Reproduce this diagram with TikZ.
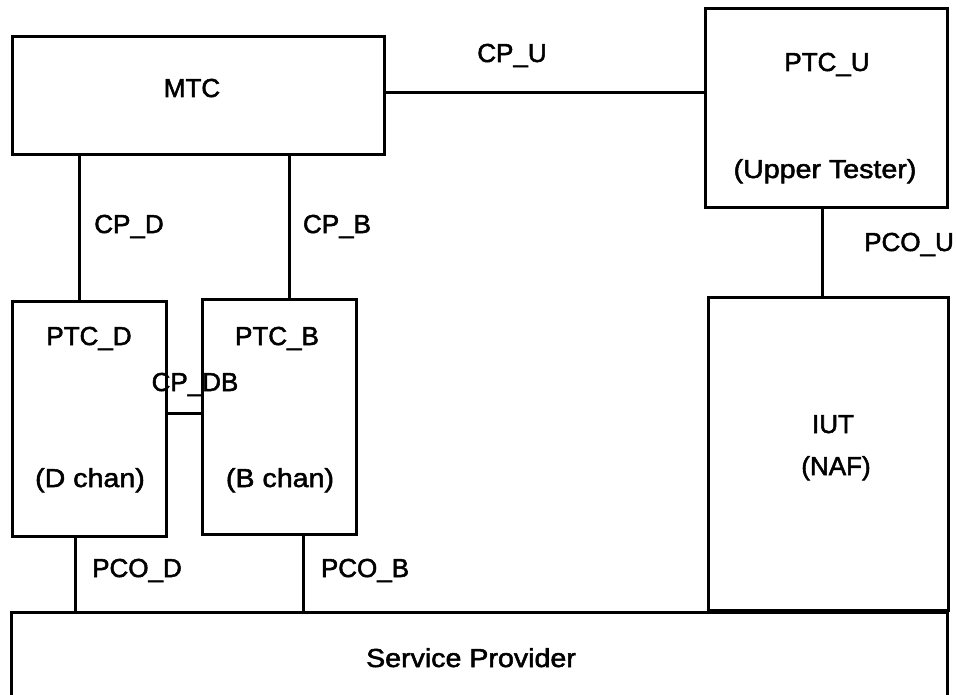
\documentclass[tikz,border=0pt]{standalone}
\usepackage{fontspec}
\setmainfont{Liberation Sans}[FakeBold=2]
\newfontfamily\widefont{Liberation Sans}[FakeStretch=1.1,FakeBold=2]
\usetikzlibrary{calc,positioning}

\tikzset{
  box/.style={draw, line width=3pt, inner sep=0pt},
  link/.style={line width=3pt},
  lbl/.style={anchor=base, inner sep=0pt, font=\fontsize{26}{30}\selectfont},
  lblw/.style={lbl, font=\fontsize{26}{30}\widefont}
}

\begin{document}
\begin{tikzpicture}[x=1pt,y=-1pt]
  \useasboundingbox (0,0) rectangle (957,695);
  \clip (0,0) rectangle (957,695);
  % Test components
  \node[box, minimum width=372pt, minimum height=118pt] (mtc) at (198,96) {};
  \node[box, minimum width=242pt, minimum height=198pt] (ptcu) at (826,108) {};
  \node[box, minimum width=154pt, minimum height=235pt] (ptcd) at (89,418.5) {};
  \node[box, minimum width=154pt, minimum height=235pt] (ptcb) at (279,416.5) {};
  \node[box, minimum width=240pt, minimum height=313pt] (iut) at (828,453.5) {};
  \node[box, minimum width=936pt, minimum height=118pt] (sp) at (479,671) {};
  % Where the links sit
  \coordinate (cpu) at (0,93);
  \coordinate (cpdb) at (0,413);
  \coordinate (cpd) at (79,0);
  \coordinate (cpb) at (289,0);
  \coordinate (pcod) at (75,0);
  \coordinate (pcob) at (303,0);
  \coordinate (pcou) at (822,0);
  \draw[link] (mtc.east |- cpu) -- (ptcu.west |- cpu);
  \draw[link] (mtc.south -| cpd) -- (ptcd.north -| cpd);
  \draw[link] (mtc.south -| cpb) -- (ptcb.north -| cpb);
  \draw[link] (ptcd.east |- cpdb) -- (ptcb.west |- cpdb);
  \draw[link] (ptcu.south -| pcou) -- (iut.north -| pcou);
  \draw[link] (ptcd.south -| pcod) -- (sp.north -| pcod);
  \draw[link] (ptcb.south -| pcob) -- (sp.north -| pcob);
  % Texts
  \node[lbl] (mtctxt) at (192,97) {MTC};
  \node[lbl] (ptcutxt) at (827,71) {PTC\_U};
  \node[lblw] (uptxt) at (825,178) {(Upper Tester)};
  \node[lbl] (ptcdtxt) at (89,345) {PTC\_D};
  \node[lblw] (dchtxt) at (90,487) {(D chan)};
  \node[lbl] (ptcbtxt) at (277,345) {PTC\_B};
  \node[lblw] (bchtxt) at (280,487) {(B chan)};
  \node[lbl] (iuttxt) at (833,433) {IUT};
  \node[lbl] (naftxt) at (836,475) {(NAF)};
  \node[lblw] (sptxt) at (471,667) {Service Provider};
  \node[lbl] (cputxt) at (512,62) {CP\_U};
  \node[lbl] (cpdtxt) at (129,233) {CP\_D};
  \node[lbl] (cpbtxt) at (337,233) {CP\_B};
  \node[lbl] (pcoutxt) at (909,251) {PCO\_U};
  \node[lbl] (cpdbtxt) at (195,391) {CP\_DB};
  \node[lbl] (pcodtxt) at (137,577) {PCO\_D};
  \node[lbl] (pcobtxt) at (365,577) {PCO\_B};
\end{tikzpicture}
\end{document}
